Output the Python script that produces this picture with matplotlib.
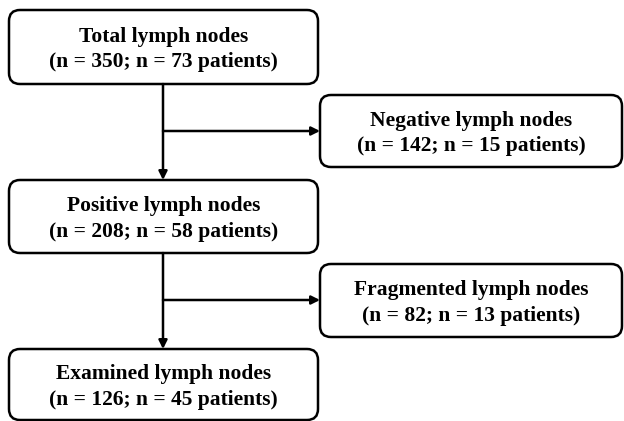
import matplotlib.pyplot as plt
from matplotlib.patches import FancyBboxPatch

# flowchart content
titles = ["Total lymph nodes", "Negative lymph nodes", "Positive lymph nodes",
          "Fragmented lymph nodes", "Examined lymph nodes"]
nodes = [350, 142, 208, 82, 126]
patients = [73, 15, 58, 13, 45]

# box layout in pixels (x0, y0, x1, y1), y measured from top
boxes = [(9, 10, 318, 84),
         (320, 95, 622, 167),
         (9, 180, 318, 253),
         (320, 264, 622, 337),
         (9, 349, 318, 420)]

plt.rcParams['font.family'] = ['Liberation Serif', 'DejaVu Serif']

fig = plt.figure(figsize=(6.24, 4.21), dpi=100)
ax = fig.add_axes([0, 0, 1, 1])
ax.set_xlim(0, 624)
ax.set_ylim(421, 0)
ax.axis('off')

r = 11
for (x0, y0, x1, y1), t, n, p in zip(boxes, titles, nodes, patients):
    box = FancyBboxPatch((x0 + r, y0 + r), (x1 - x0) - 2 * r, (y1 - y0) - 2 * r,
                         boxstyle="round,pad=%d" % r, fc='white', ec='black', lw=1.8)
    ax.add_patch(box)
    cx = (x0 + x1) / 2
    cy = (y0 + y1) / 2
    ax.text(cx, cy - 10, t, ha='center', va='center', fontsize=15.5, fontweight='bold')
    ax.text(cx, cy + 15, "(n = %d; n = %d patients)" % (n, p), ha='center', va='center',
            fontsize=15.5, fontweight='bold')

xc = 163
aprops = dict(arrowstyle='-|>,head_length=0.5,head_width=0.25', color='black', lw=1.8,
              shrinkA=0, shrinkB=0)

# main vertical arrows
for top, bot in [(0, 2), (2, 4)]:
    ax.annotate('', xy=(xc, boxes[bot][1]), xytext=(xc, boxes[top][3]), arrowprops=aprops)

# side branches
for side, yb in [(1, 131), (3, 300)]:
    ax.annotate('', xy=(boxes[side][0], yb), xytext=(xc, yb), arrowprops=aprops)

plt.savefig('out.png', dpi=100, facecolor='white')
